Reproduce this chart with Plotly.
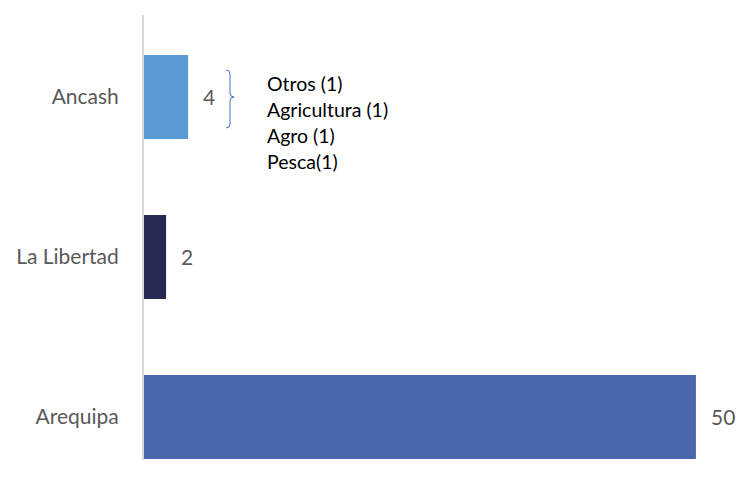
import plotly.graph_objects as go

# Regions (bottom to top) and their counts
regiones = ["Arequipa", "La Libertad", "Ancash"]
valores = [50, 2, 4]
colores = ["#4A67AE", "#262A52", "#5B9BD5"]

# Breakdown of the Ancash count
detalle_ancash = ["Otros (1)", "Agricultura (1)", "Agro (1)", "Pesca(1)"]

PX_PER_UNIT = (738 - 144 - 20) / 52.0

fig = go.Figure()
fig.add_trace(go.Bar(
    y=regiones, x=valores, orientation="h",
    marker=dict(color=colores, line=dict(width=0)),
    width=0.525, hoverinfo="skip",
))

# Value labels to the right of each bar
for reg, val in zip(regiones, valores):
    fig.add_annotation(
        x=val, y=reg, xref="x", yref="y", text=str(val),
        showarrow=False, xanchor="left", yanchor="middle", xshift=13,
        font=dict(family="Lato", size=21, color="#595959"),
    )

# Bracket next to the Ancash value
y_anc = regiones.index("Ancash")
def ypix(p):
    return y_anc + (97 - p) / 160.0
def xpix(p):
    return (p - 144) / PX_PER_UNIT

fig.add_shape(
    type="path", xref="x", yref="y",
    path=(f"M {xpix(226)},{ypix(70)} Q {xpix(230)},{ypix(70)} {xpix(230)},{ypix(74)} "
          f"L {xpix(230)},{ypix(93)} Q {xpix(230)},{ypix(97)} {xpix(234)},{ypix(97)} "
          f"Q {xpix(230)},{ypix(97)} {xpix(230)},{ypix(101)} "
          f"L {xpix(230)},{ypix(124)} Q {xpix(230)},{ypix(128)} {xpix(226)},{ypix(128)}"),
    line=dict(color="#4472C4", width=1),
)

# Breakdown list
for i, t in enumerate(detalle_ancash):
    fig.add_annotation(
        x=xpix(265), y=ypix(84 + 25.7 * i), xref="x", yref="y", text=t,
        showarrow=False, xanchor="left", yanchor="middle",
        font=dict(family="Lato", size=19.5, color="#000000"),
    )

fig.update_layout(
    width=738, height=480,
    margin=dict(l=144, r=20, t=15, b=20),
    paper_bgcolor="white", plot_bgcolor="white",
    showlegend=False,
    xaxis=dict(range=[0, 52.0], visible=False, fixedrange=True),
    yaxis=dict(
        range=[-0.269, 2.5125], showgrid=False, zeroline=False,
        showline=True, linecolor="#D9D9D9", linewidth=2,
        ticks="", ticklabelstandoff=19,
        tickfont=dict(family="Lato", size=21, color="#595959"),
        categoryorder="array", categoryarray=regiones,
    ),
)

fig.write_html("out.html")
